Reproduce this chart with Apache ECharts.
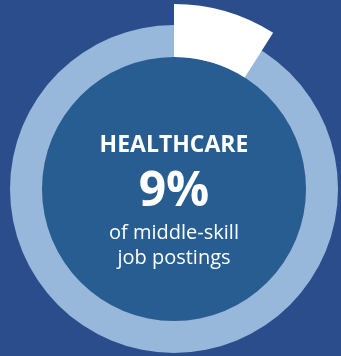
<!DOCTYPE html>
<html><head><meta charset="utf-8">
<script src="https://cdn.jsdelivr.net/npm/echarts@6/dist/echarts.min.js"></script>
<style>html,body{margin:0;padding:0;background:#2c4d8b;}#c{width:341px;height:356px;}</style>
</head><body><div id="c"></div>
<script>
var categories = ['Healthcare', 'Other'];
var values = [9, 91];
var headline = 'HEALTHCARE';
var bigLabel = '9%';
var subLines = ['of middle-skill', 'job postings'];

var chart = echarts.init(document.getElementById('c'), null, {renderer: 'canvas'});
var cx = 174, cy = 189;
var ff = 'Open Sans';
function txt(t, y, size, weight) {
  return {type: 'text', x: cx, y: y, z: 100,
    style: {text: t, fill: '#ffffff', fontSize: size, fontWeight: weight, fontFamily: ff, align: 'center', verticalAlign: 'middle'}};
}
chart.setOption({
  backgroundColor: '#2c4d8b',
  animation: false,
  series: [
    {type: 'pie', silent: true, center: [cx, cy], radius: [0, 132], label: {show: false},
     itemStyle: {color: '#275d91'}, data: [{name: 'inner', value: 1}]},
    {type: 'pie', silent: true, center: [cx, cy], radius: [132, 164], label: {show: false},
     itemStyle: {color: '#97b8db'}, data: [{name: 'ring', value: 1}]},
    {type: 'pie', silent: true, center: [cx, cy], radius: [132, 185], startAngle: 90, clockwise: true,
     label: {show: false}, emphasis: {disabled: true},
     data: categories.map(function (c, i) {
       return {name: c, value: values[i], itemStyle: {color: i === 0 ? '#ffffff' : 'rgba(0,0,0,0)'}};
     })}
  ],
  graphic: {elements: [
    txt(headline, 145, 23, 'bold'),
    txt(bigLabel, 192, 48, 'bold'),
    txt(subLines[0], 233, 20, 'normal'),
    txt(subLines[1], 258, 20, 'normal')
  ]}
});
</script></body></html>
